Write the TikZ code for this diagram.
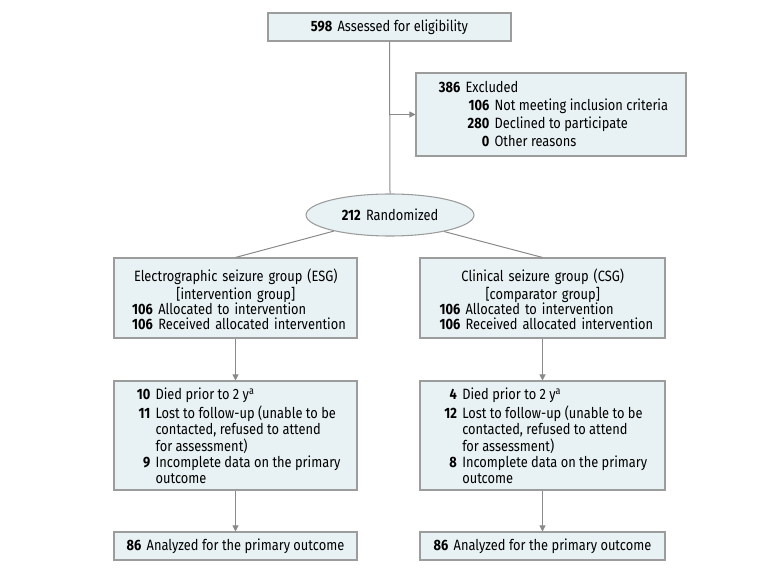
\documentclass[tikz,border=0pt]{standalone}
\usepackage{fontspec}
\setmainfont{Fira Sans}[FakeStretch=0.86]
\usetikzlibrary{shapes.geometric,arrows.meta}
\definecolor{boxfill}{HTML}{E8F1F3}
\definecolor{boxline}{HTML}{9C9C9C}
\definecolor{conn}{HTML}{8A8A8A}
\newcommand{\nm}[2][22pt]{\makebox[#1][r]{\bfseries #2}\hspace{4pt}}
\newcommand{\ctr}[1]{\makebox[\linewidth][c]{#1}}
\begin{document}
\begin{tikzpicture}[x=0.75pt,y=-0.75pt,
  box/.style={draw=boxline, fill=boxfill, line width=0.8pt, inner sep=0pt},
  txt/.style={inner sep=0pt, align=left, font=\fontsize{11.2}{12.3}\selectfont},
  ln/.style={draw=conn, line width=0.75pt},
  arr/.style={draw=conn, line width=0.75pt, -{Triangle[length=4.5pt,width=4.5pt]}}]
\useasboundingbox (0,0) rectangle (780,573);
% boxes
\node[box, minimum width=182.25pt, minimum height=21pt, font=\fontsize{11.2}{12.3}\selectfont] (top) at (389.5,27) {\textbf{598}\hspace{4pt}Assessed for eligibility};
\node[box, minimum width=202.5pt, minimum height=62.25pt] (excl) at (551,114.5) {};
\node[box, ellipse, minimum width=126pt, minimum height=31.5pt, font=\fontsize{11.2}{12.3}\selectfont] (rand) at (390,215) {\textbf{212}\hspace{4pt}Randomized};
\node[box, minimum width=182.25pt, minimum height=60pt] (esg) at (235.5,298) {};
\node[box, minimum width=183.75pt, minimum height=60pt] (csg) at (542.5,298) {};
\node[box, minimum width=182.25pt, minimum height=81.75pt] (lft) at (235.5,435.5) {};
\node[box, minimum width=183.75pt, minimum height=81.75pt] (rft) at (542.5,435.5) {};
\node[box, minimum width=182.25pt, minimum height=21pt, font=\fontsize{11.2}{12.3}\selectfont] (lan) at (235.5,546) {\textbf{86}\hspace{4pt}Analyzed for the primary outcome};
\node[box, minimum width=183.75pt, minimum height=21pt, font=\fontsize{11.2}{12.3}\selectfont] (ran) at (542.5,546) {\textbf{86}\hspace{4pt}Analyzed for the primary outcome};
% texts
\node[txt, font=\fontsize{11.2}{13.5}\selectfont, anchor=north west] (excltxt) at (430,79.4) {%
\nm[22.5pt]{386}Excluded\strut\\
\nm[44.25pt]{106}Not meeting inclusion criteria\\
\nm[44.25pt]{280}Declined to participate\\
\nm[44.25pt]{0}Other reasons};
\node[txt, font=\fontsize{11.2}{11.25}\selectfont, text width=173.25pt, anchor=north west] (esgt) at (120,268.5) {%
\ctr{\strut Electrographic seizure group (ESG)}\\
\ctr{[intervention group]}\\
\nm[24.5pt]{106}Allocated to intervention\\
\nm[24.5pt]{106}Received allocated intervention};
\node[txt, font=\fontsize{11.2}{11.25}\selectfont, text width=174.75pt, anchor=north west] (csgt) at (426,268.5) {%
\ctr{\strut Clinical seizure group (CSG)}\\
\ctr{[comparator group]}\\
\nm[25.5pt]{106}Allocated to intervention\\
\nm[25.5pt]{106}Received allocated intervention};
\node[txt, anchor=north west] (lftt) at (120,387.5) {%
\nm[22.5pt]{10}Died prior to 2 y\textsuperscript{a}\strut\\
\nm[22.5pt]{11}Lost to follow-up (unable to be\\
\nm[22.5pt]{}contacted, refused to attend\\
\nm[22.5pt]{}for assessment)\\
\nm[22.5pt]{9}Incomplete data on the primary\\
\nm[22.5pt]{}outcome};
\node[txt, anchor=north west] (rftt) at (426,387.5) {%
\nm[23pt]{4}Died prior to 2 y\textsuperscript{a}\strut\\
\nm[23pt]{12}Lost to follow-up (unable to be\\
\nm[23pt]{}contacted, refused to attend\\
\nm[23pt]{}for assessment)\\
\nm[23pt]{8}Incomplete data on the primary\\
\nm[23pt]{}outcome};
% connectors
\draw[ln] (top.south) -- (rand.north);
\draw[arr] (top.south |- excl.west) -- (excl.west);
\draw[ln] (rand.196.5) -- (esg.north);
\draw[ln] (rand.343.5) -- (csg.north);
\draw[arr] (esg.south) -- (lft.north);
\draw[arr] (csg.south) -- (rft.north);
\draw[arr] (lft.south) -- (lan.north);
\draw[arr] (rft.south) -- (ran.north);
\end{tikzpicture}
\end{document}
